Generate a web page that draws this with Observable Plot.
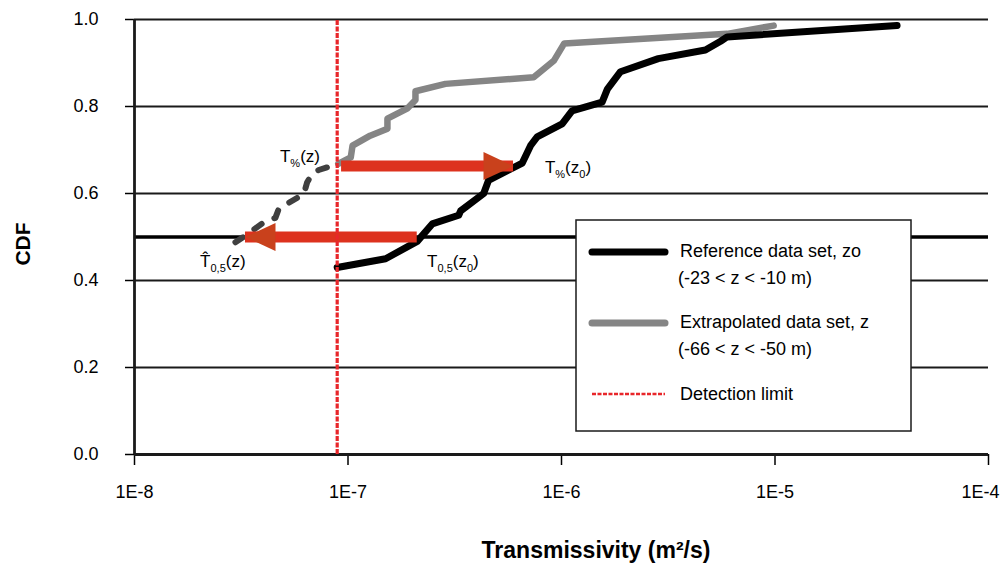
<!DOCTYPE html>
<html><head><meta charset="utf-8">
<script src="https://cdn.jsdelivr.net/npm/d3@7"></script>
<script src="https://cdn.jsdelivr.net/npm/@observablehq/plot@0.6"></script>
<style>
body{margin:0;background:#fff;}
#chart{position:relative;width:1000px;height:566px;}
</style></head><body><div id="chart"></div>
<script>
// ---- data ----
const detectionLimit = 8.9e-8;

// Reference data set, zo (-23 < z < -10 m)
const refT   = [8.9e-8, 1.50e-7, 2.11e-7, 2.48e-7, 3.30e-7, 3.37e-7, 4.32e-7, 4.55e-7, 6.55e-7, 7.16e-7, 7.69e-7, 1.007e-6, 1.12e-6, 1.55e-6, 1.64e-6, 1.89e-6, 2.84e-6, 4.72e-6, 5.56e-6, 5.97e-6, 3.73e-5];
const refCDF = [0.43, 0.45, 0.49, 0.53, 0.55, 0.56, 0.60, 0.63, 0.67, 0.71, 0.73, 0.76, 0.79, 0.81, 0.84, 0.88, 0.91, 0.93, 0.95, 0.96, 0.986];

// Extrapolated data set, z (-66 < z < -50 m), above detection limit
const extT   = [9.0e-8, 1.03e-7, 1.05e-7, 1.27e-7, 1.53e-7, 1.53e-7, 1.89e-7, 2.07e-7, 2.07e-7, 2.86e-7, 7.41e-7, 9.20e-7, 1.03e-6, 5.97e-6, 9.86e-6];
const extCDF = [0.668, 0.683, 0.71, 0.733, 0.749, 0.772, 0.795, 0.815, 0.835, 0.852, 0.867, 0.905, 0.945, 0.967, 0.986];

// Extrapolated below detection limit (dashed)
const extrapT   = [2.97e-8, 3.31e-8, 4.04e-8, 4.57e-8, 4.74e-8, 6.21e-8, 6.44e-8, 6.79e-8, 7.29e-8, 9.0e-8];
const extrapCDF = [0.488, 0.503, 0.534, 0.544, 0.565, 0.599, 0.626, 0.645, 0.654, 0.668];

// arrows: from -> to at CDF level
const arrowFrom = [9.33e-8, 2.11e-7];
const arrowTo   = [5.96e-7, 3.31e-8];
const arrowCDF  = [0.663, 0.5];
const arrowDir  = ["right", "left"];

// tick values
const xTicks = [1e-8, 1e-7, 1e-6, 1e-5, 1e-4];
const xTickLabels = ["1E-8", "1E-7", "1E-6", "1E-5", "1E-4"];
const yTicks = [0, 0.2, 0.4, 0.6, 0.8, 1.0];
const gridY = [0.2, 0.4, 0.6, 0.8, 1.0];
const medianLevel = [0.5];

// annotations
const annoT = [7.43e-8, 8.41e-7, 2.04e-8, 2.36e-7];
const annoCDF = [0.671, 0.646, 0.431, 0.431];
const annoAnchor = ["end", "start", "start", "start"];
const annoParts = [
  [["T"], ["%", 1], ["(z)"]],
  [["T"], ["%", 1], ["(z"], ["0", 1], [")"]],
  [["T\u0302"], ["0,5", 1], ["(z)"]],
  [["T"], ["0,5", 1], ["(z"], ["0", 1], [")"]]
];

const legendLabels = [
  ["Reference data set, zo", "(-23 < z < -10 m)"],
  ["Extrapolated data set, z", "(-66 < z < -50 m)"],
  ["Detection limit"]
];

// ---- chart ----
const RED = "#e8262a";
const arrows = arrowFrom.map((f, i) => ({from: f, to: arrowTo[i], y: arrowCDF[i], dir: arrowDir[i]}));
const headRight = {draw(ctx) { ctx.moveTo(0, 0); ctx.lineTo(-30, -14); ctx.lineTo(-30, 14); ctx.closePath(); }};
const headLeft  = {draw(ctx) { ctx.moveTo(0, 0); ctx.lineTo(30, -14); ctx.lineTo(30, 14); ctx.closePath(); }};

const plot = Plot.plot({
  width: 1000,
  height: 566,
  marginLeft: 134,
  marginRight: 12,
  marginTop: 19,
  marginBottom: 112,
  style: {fontFamily: "'Liberation Sans', Arial, sans-serif", fontSize: "18px", color: "#000", background: "#fff"},
  x: {type: "log", domain: [1e-8, 1e-4]},
  y: {domain: [0, 1]},
  marks: [
    Plot.ruleY(gridY, {stroke: "#1a1a1a", strokeWidth: 1.8}),
    Plot.ruleY(medianLevel, {stroke: "#000", strokeWidth: 3.5}),
    Plot.axisX(xTicks, {tickFormat: d => xTickLabels[xTicks.indexOf(d)], tickSize: 11, tickPadding: 20, label: null, strokeWidth: 1.5, fontSize: 18}),
    Plot.axisY(yTicks, {tickFormat: d => d.toFixed(1), tickSize: 9, tickPadding: 27, label: null, strokeWidth: 1.5, fontSize: 18}),
    Plot.ruleX([1e-8], {y1: 0, y2: 1, stroke: "#1a1a1a", strokeWidth: 2.8}),
    Plot.ruleY([0], {stroke: "#1a1a1a", strokeWidth: 2.8}),
    Plot.line(extCDF, {x: extT, y: extCDF, stroke: "#858585", strokeWidth: 6.5, strokeLinecap: "round", strokeLinejoin: "round"}),
    Plot.line(extrapCDF, {x: extrapT, y: extrapCDF, stroke: "#404040", strokeWidth: 6, strokeDasharray: "9,14", strokeLinecap: "round", strokeLinejoin: "round"}),
    Plot.line(refCDF, {x: refT, y: refCDF, stroke: "#000", strokeWidth: 7, strokeLinecap: "round", strokeLinejoin: "round"}),
    Plot.ruleY(arrows, {y: "y", x1: "from", x2: "to", stroke: "#dd321e", strokeWidth: 11}),
    Plot.dot(arrows.filter(d => d.dir === "right"), {x: "to", y: "y", symbol: headRight, fill: "#c9411c", stroke: "none", r: 10}),
    Plot.dot(arrows.filter(d => d.dir === "left"), {x: "to", y: "y", symbol: headLeft, fill: "#c9411c", stroke: "none", r: 10}),
    Plot.ruleX([detectionLimit], {y1: 0, y2: 1, stroke: RED, strokeWidth: 3.2, strokeDasharray: "5,1.5"})
  ]
});

document.getElementById("chart").appendChild(plot);

const svg = d3.select(plot);
const xs = plot.scale("x"), ys = plot.scale("y");

// keep the last x tick label inside the picture
const xLabels = svg.selectAll('g[aria-label="x-axis tick label"] text').nodes();
if (xLabels.length) {
  const last = d3.select(xLabels[xLabels.length - 1]);
  last.attr("text-anchor", "end").attr("dx", 11);
}

// annotations with subscripts
annoParts.forEach((parts, i) => {
  const t = svg.append("text")
    .attr("x", xs.apply(annoT[i])).attr("y", ys.apply(annoCDF[i]))
    .attr("text-anchor", annoAnchor[i]).attr("font-size", 17).attr("fill", "#000");
  let off = 0;
  parts.forEach(([s, sub]) => {
    const target = sub ? 5 : 0;
    const sp = t.append("tspan").text(s).attr("dy", target - off);
    if (sub) sp.attr("font-size", 11);
    off = target;
  });
});

// axis titles
svg.append("text").attr("x", 596).attr("y", 558).attr("text-anchor", "middle")
  .attr("font-size", 23).attr("font-weight", "bold").text("Transmissivity (m²/s)");
svg.append("text").attr("transform", "translate(30,244) rotate(-90)").attr("text-anchor", "middle")
  .attr("font-size", 21).attr("font-weight", "bold").text("CDF");

// legend
const lg = svg.append("g").attr("text-anchor", "start");
lg.append("rect").attr("x", 576).attr("y", 220).attr("width", 335).attr("height", 211)
  .attr("fill", "#fff").attr("stroke", "#1a1a1a").attr("stroke-width", 1.5);
const legendStyles = [
  {stroke: "#000", width: 7, dash: null, cap: "round"},
  {stroke: "#858585", width: 7, dash: null, cap: "round"},
  {stroke: RED, width: 2.5, dash: "4,1.5", cap: "butt"}
];
const legendLineY = [252, 323, 394];
legendLabels.forEach((lines, i) => {
  lg.append("line").attr("x1", 592).attr("x2", 665).attr("y1", legendLineY[i]).attr("y2", legendLineY[i])
    .attr("stroke", legendStyles[i].stroke).attr("stroke-width", legendStyles[i].width)
    .attr("stroke-linecap", legendStyles[i].cap).attr("stroke-dasharray", legendStyles[i].dash);
  lines.forEach((s, j) => {
    lg.append("text").attr("x", j === 0 ? 680 : 678).attr("y", legendLineY[i] + (lines.length > 1 ? 5 : 6) + j * 27)
      .attr("text-anchor", "start").attr("font-size", 18).attr("fill", "#000").text(s);
  });
});
</script></body></html>
